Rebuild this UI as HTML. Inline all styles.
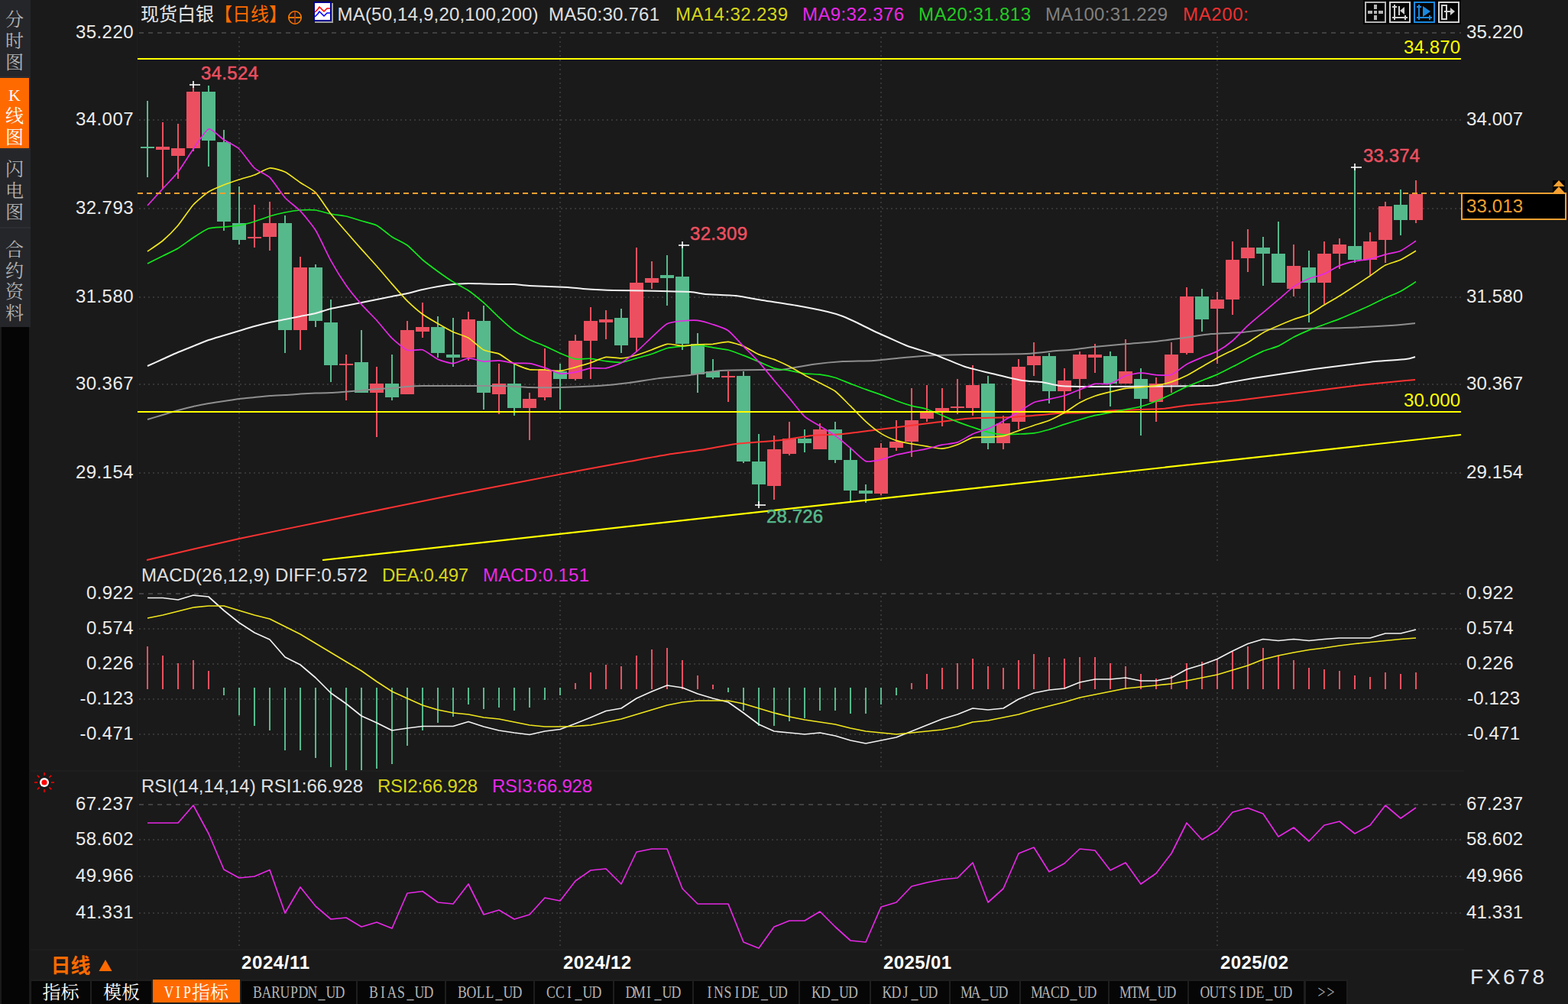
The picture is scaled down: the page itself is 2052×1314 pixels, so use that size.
<!DOCTYPE html>
<html><head><meta charset="utf-8"><title>chart</title>
<style>html,body{margin:0;padding:0;background:#1a1a1a;overflow:hidden}svg{display:block}</style>
</head><body>
<svg width="2052" height="1314" viewBox="0 0 2052 1314">
<rect x="0" y="0" width="2052" height="1314" fill="#1a1a1a" />
<rect x="0" y="0" width="40" height="428" fill="#25262a" />
<rect x="0" y="102" width="38" height="92" fill="#ff6a00" />
<rect x="2" y="428" width="36" height="886" fill="#050505" />
<line x1="0" y1="298" x2="40" y2="298" stroke="#34353a" stroke-width="1" />
<line x1="0" y1="100.5" x2="40" y2="100.5" stroke="#2e2f33" stroke-width="1" />
<line x1="0" y1="195.5" x2="40" y2="195.5" stroke="#2e2f33" stroke-width="1" />
<text x="7" y="34.12" fill="#b4b4b4" font-size="24" text-anchor="start" font-family="Liberation Serif, Noto Serif CJK SC, serif">分</text>
<text x="7" y="62.12" fill="#b4b4b4" font-size="24" text-anchor="start" font-family="Liberation Serif, Noto Serif CJK SC, serif">时</text>
<text x="7" y="90.12" fill="#b4b4b4" font-size="24" text-anchor="start" font-family="Liberation Serif, Noto Serif CJK SC, serif">图</text>
<text x="19" y="132" fill="#ffffff" font-size="22" font-weight="normal" text-anchor="middle" font-family="Liberation Serif, sans-serif" >K</text>
<text x="7" y="160.12" fill="#ffffff" font-size="24" text-anchor="start" font-family="Liberation Serif, Noto Serif CJK SC, serif">线</text>
<text x="7" y="188.12" fill="#ffffff" font-size="24" text-anchor="start" font-family="Liberation Serif, Noto Serif CJK SC, serif">图</text>
<text x="7" y="230.12" fill="#b4b4b4" font-size="24" text-anchor="start" font-family="Liberation Serif, Noto Serif CJK SC, serif">闪</text>
<text x="7" y="258.12" fill="#b4b4b4" font-size="24" text-anchor="start" font-family="Liberation Serif, Noto Serif CJK SC, serif">电</text>
<text x="7" y="286.12" fill="#b4b4b4" font-size="24" text-anchor="start" font-family="Liberation Serif, Noto Serif CJK SC, serif">图</text>
<text x="7" y="335.12" fill="#b4b4b4" font-size="24" text-anchor="start" font-family="Liberation Serif, Noto Serif CJK SC, serif">合</text>
<text x="7" y="363.12" fill="#b4b4b4" font-size="24" text-anchor="start" font-family="Liberation Serif, Noto Serif CJK SC, serif">约</text>
<text x="7" y="390.12" fill="#b4b4b4" font-size="24" text-anchor="start" font-family="Liberation Serif, Noto Serif CJK SC, serif">资</text>
<text x="7" y="418.12" fill="#b4b4b4" font-size="24" text-anchor="start" font-family="Liberation Serif, Noto Serif CJK SC, serif">料</text>
<line x1="40" y1="1009" x2="1916" y2="1009" stroke="#222222" stroke-width="1" />
<line x1="40" y1="1243" x2="1916" y2="1243" stroke="#222222" stroke-width="1" />
<line x1="179.5" y1="0" x2="179.5" y2="1282" stroke="#1f1f1f" stroke-width="1" />
<line x1="182" y1="43" x2="1912" y2="43" stroke="#404040" stroke-width="2" stroke-dasharray="6 6" shape-rendering="crispEdges"/>
<line x1="182" y1="157" x2="1912" y2="157" stroke="#363636" stroke-width="2" stroke-dasharray="2 4" shape-rendering="crispEdges"/>
<line x1="182" y1="273" x2="1912" y2="273" stroke="#363636" stroke-width="2" stroke-dasharray="2 4" shape-rendering="crispEdges"/>
<line x1="182" y1="389" x2="1912" y2="389" stroke="#363636" stroke-width="2" stroke-dasharray="2 4" shape-rendering="crispEdges"/>
<line x1="182" y1="503" x2="1912" y2="503" stroke="#363636" stroke-width="2" stroke-dasharray="2 4" shape-rendering="crispEdges"/>
<line x1="182" y1="619" x2="1912" y2="619" stroke="#363636" stroke-width="2" stroke-dasharray="2 4" shape-rendering="crispEdges"/>
<line x1="182" y1="777" x2="1912" y2="777" stroke="#404040" stroke-width="2" stroke-dasharray="6 6" shape-rendering="crispEdges"/>
<line x1="182" y1="823" x2="1912" y2="823" stroke="#363636" stroke-width="2" stroke-dasharray="2 4" shape-rendering="crispEdges"/>
<line x1="182" y1="869" x2="1912" y2="869" stroke="#363636" stroke-width="2" stroke-dasharray="2 4" shape-rendering="crispEdges"/>
<line x1="182" y1="915" x2="1912" y2="915" stroke="#363636" stroke-width="2" stroke-dasharray="2 4" shape-rendering="crispEdges"/>
<line x1="182" y1="961" x2="1912" y2="961" stroke="#363636" stroke-width="2" stroke-dasharray="2 4" shape-rendering="crispEdges"/>
<line x1="182" y1="1053" x2="1912" y2="1053" stroke="#404040" stroke-width="2" stroke-dasharray="6 6" shape-rendering="crispEdges"/>
<line x1="182" y1="1099" x2="1912" y2="1099" stroke="#363636" stroke-width="2" stroke-dasharray="2 4" shape-rendering="crispEdges"/>
<line x1="182" y1="1147" x2="1912" y2="1147" stroke="#363636" stroke-width="2" stroke-dasharray="2 4" shape-rendering="crispEdges"/>
<line x1="182" y1="1195" x2="1912" y2="1195" stroke="#363636" stroke-width="2" stroke-dasharray="2 4" shape-rendering="crispEdges"/>
<line x1="313" y1="48" x2="313" y2="735" stroke="#363636" stroke-width="2" stroke-dasharray="2 4" shape-rendering="crispEdges"/>
<line x1="313" y1="780" x2="313" y2="1007" stroke="#363636" stroke-width="2" stroke-dasharray="2 4" shape-rendering="crispEdges"/>
<line x1="313" y1="1056" x2="313" y2="1241" stroke="#363636" stroke-width="2" stroke-dasharray="2 4" shape-rendering="crispEdges"/>
<line x1="733" y1="48" x2="733" y2="735" stroke="#363636" stroke-width="2" stroke-dasharray="2 4" shape-rendering="crispEdges"/>
<line x1="733" y1="780" x2="733" y2="1007" stroke="#363636" stroke-width="2" stroke-dasharray="2 4" shape-rendering="crispEdges"/>
<line x1="733" y1="1056" x2="733" y2="1241" stroke="#363636" stroke-width="2" stroke-dasharray="2 4" shape-rendering="crispEdges"/>
<line x1="1153" y1="48" x2="1153" y2="735" stroke="#363636" stroke-width="2" stroke-dasharray="2 4" shape-rendering="crispEdges"/>
<line x1="1153" y1="780" x2="1153" y2="1007" stroke="#363636" stroke-width="2" stroke-dasharray="2 4" shape-rendering="crispEdges"/>
<line x1="1153" y1="1056" x2="1153" y2="1241" stroke="#363636" stroke-width="2" stroke-dasharray="2 4" shape-rendering="crispEdges"/>
<line x1="1593" y1="48" x2="1593" y2="735" stroke="#363636" stroke-width="2" stroke-dasharray="2 4" shape-rendering="crispEdges"/>
<line x1="1593" y1="780" x2="1593" y2="1007" stroke="#363636" stroke-width="2" stroke-dasharray="2 4" shape-rendering="crispEdges"/>
<line x1="1593" y1="1056" x2="1593" y2="1241" stroke="#363636" stroke-width="2" stroke-dasharray="2 4" shape-rendering="crispEdges"/>
<clipPath id="cm"><rect x="180" y="34" width="1734" height="700"/></clipPath>
<g shape-rendering="crispEdges">
<rect x="192" y="132" width="2" height="100" fill="#56b98c" />
<rect x="184" y="192" width="18" height="2" fill="#56b98c" />
<rect x="212" y="160" width="2" height="87" fill="#ec5060" />
<rect x="204" y="192" width="18" height="4" fill="#ec5060" />
<rect x="232" y="162" width="2" height="72" fill="#ec5060" />
<rect x="224" y="194" width="18" height="10" fill="#ec5060" />
<rect x="252" y="113" width="2" height="85" fill="#ec5060" />
<rect x="244" y="120" width="18" height="74" fill="#ec5060" />
<rect x="272" y="112" width="2" height="106" fill="#56b98c" />
<rect x="264" y="120" width="18" height="64" fill="#56b98c" />
<rect x="292" y="170" width="2" height="132" fill="#56b98c" />
<rect x="284" y="186" width="18" height="104" fill="#56b98c" />
<rect x="312" y="244" width="2" height="76" fill="#56b98c" />
<rect x="304" y="292" width="18" height="22" fill="#56b98c" />
<rect x="332" y="268" width="2" height="56" fill="#ec5060" />
<rect x="324" y="310" width="18" height="2" fill="#ec5060" />
<rect x="352" y="264" width="2" height="64" fill="#ec5060" />
<rect x="344" y="292" width="18" height="18" fill="#ec5060" />
<rect x="372" y="282" width="2" height="180" fill="#56b98c" />
<rect x="364" y="292" width="18" height="140" fill="#56b98c" />
<rect x="392" y="336" width="2" height="122" fill="#ec5060" />
<rect x="384" y="350" width="18" height="82" fill="#ec5060" />
<rect x="412" y="346" width="2" height="82" fill="#56b98c" />
<rect x="404" y="350" width="18" height="70" fill="#56b98c" />
<rect x="432" y="392" width="2" height="108" fill="#56b98c" />
<rect x="424" y="422" width="18" height="56" fill="#56b98c" />
<rect x="452" y="464" width="2" height="60" fill="#ec5060" />
<rect x="444" y="476" width="18" height="2" fill="#ec5060" />
<rect x="472" y="432" width="2" height="82" fill="#56b98c" />
<rect x="464" y="474" width="18" height="40" fill="#56b98c" />
<rect x="492" y="480" width="2" height="92" fill="#ec5060" />
<rect x="484" y="502" width="18" height="12" fill="#ec5060" />
<rect x="512" y="464" width="2" height="60" fill="#56b98c" />
<rect x="504" y="502" width="18" height="18" fill="#56b98c" />
<rect x="532" y="420" width="2" height="96" fill="#ec5060" />
<rect x="524" y="432" width="18" height="84" fill="#ec5060" />
<rect x="552" y="396" width="2" height="46" fill="#ec5060" />
<rect x="544" y="428" width="18" height="6" fill="#ec5060" />
<rect x="572" y="414" width="2" height="54" fill="#56b98c" />
<rect x="564" y="428" width="18" height="34" fill="#56b98c" />
<rect x="592" y="416" width="2" height="64" fill="#56b98c" />
<rect x="584" y="464" width="18" height="4" fill="#56b98c" />
<rect x="612" y="408" width="2" height="64" fill="#ec5060" />
<rect x="604" y="418" width="18" height="50" fill="#ec5060" />
<rect x="632" y="400" width="2" height="136" fill="#56b98c" />
<rect x="624" y="420" width="18" height="94" fill="#56b98c" />
<rect x="652" y="476" width="2" height="66" fill="#ec5060" />
<rect x="644" y="502" width="18" height="14" fill="#ec5060" />
<rect x="672" y="476" width="2" height="68" fill="#56b98c" />
<rect x="664" y="502" width="18" height="32" fill="#56b98c" />
<rect x="692" y="514" width="2" height="62" fill="#ec5060" />
<rect x="684" y="522" width="18" height="12" fill="#ec5060" />
<rect x="712" y="456" width="2" height="68" fill="#ec5060" />
<rect x="704" y="484" width="18" height="36" fill="#ec5060" />
<rect x="732" y="476" width="2" height="60" fill="#56b98c" />
<rect x="724" y="486" width="18" height="10" fill="#56b98c" />
<rect x="752" y="438" width="2" height="60" fill="#ec5060" />
<rect x="744" y="446" width="18" height="50" fill="#ec5060" />
<rect x="772" y="402" width="2" height="94" fill="#ec5060" />
<rect x="764" y="420" width="18" height="26" fill="#ec5060" />
<rect x="792" y="406" width="2" height="38" fill="#ec5060" />
<rect x="784" y="418" width="18" height="4" fill="#ec5060" />
<rect x="812" y="404" width="2" height="58" fill="#56b98c" />
<rect x="804" y="416" width="18" height="36" fill="#56b98c" />
<rect x="832" y="324" width="2" height="136" fill="#ec5060" />
<rect x="824" y="370" width="18" height="72" fill="#ec5060" />
<rect x="852" y="342" width="2" height="36" fill="#ec5060" />
<rect x="844" y="364" width="18" height="6" fill="#ec5060" />
<rect x="872" y="334" width="2" height="66" fill="#56b98c" />
<rect x="864" y="360" width="18" height="4" fill="#56b98c" />
<rect x="892" y="320" width="2" height="138" fill="#56b98c" />
<rect x="884" y="362" width="18" height="88" fill="#56b98c" />
<rect x="912" y="436" width="2" height="78" fill="#56b98c" />
<rect x="904" y="450" width="18" height="40" fill="#56b98c" />
<rect x="932" y="470" width="2" height="26" fill="#56b98c" />
<rect x="924" y="486" width="18" height="8" fill="#56b98c" />
<rect x="952" y="486" width="2" height="40" fill="#ec5060" />
<rect x="944" y="492" width="18" height="2" fill="#ec5060" />
<rect x="972" y="486" width="2" height="120" fill="#56b98c" />
<rect x="964" y="492" width="18" height="112" fill="#56b98c" />
<rect x="992" y="568" width="2" height="92" fill="#56b98c" />
<rect x="984" y="604" width="18" height="30" fill="#56b98c" />
<rect x="1012" y="570" width="2" height="84" fill="#ec5060" />
<rect x="1004" y="588" width="18" height="48" fill="#ec5060" />
<rect x="1032" y="552" width="2" height="44" fill="#ec5060" />
<rect x="1024" y="574" width="18" height="20" fill="#ec5060" />
<rect x="1052" y="562" width="2" height="30" fill="#56b98c" />
<rect x="1044" y="574" width="18" height="6" fill="#56b98c" />
<rect x="1072" y="554" width="2" height="34" fill="#ec5060" />
<rect x="1064" y="562" width="18" height="26" fill="#ec5060" />
<rect x="1092" y="552" width="2" height="54" fill="#56b98c" />
<rect x="1084" y="562" width="18" height="40" fill="#56b98c" />
<rect x="1112" y="586" width="2" height="70" fill="#56b98c" />
<rect x="1104" y="602" width="18" height="40" fill="#56b98c" />
<rect x="1132" y="634" width="2" height="24" fill="#56b98c" />
<rect x="1124" y="642" width="18" height="4" fill="#56b98c" />
<rect x="1152" y="580" width="2" height="68" fill="#ec5060" />
<rect x="1144" y="586" width="18" height="60" fill="#ec5060" />
<rect x="1172" y="550" width="2" height="40" fill="#ec5060" />
<rect x="1164" y="578" width="18" height="8" fill="#ec5060" />
<rect x="1192" y="508" width="2" height="90" fill="#ec5060" />
<rect x="1184" y="550" width="18" height="28" fill="#ec5060" />
<rect x="1212" y="504" width="2" height="48" fill="#ec5060" />
<rect x="1204" y="540" width="18" height="8" fill="#ec5060" />
<rect x="1232" y="508" width="2" height="50" fill="#ec5060" />
<rect x="1224" y="534" width="18" height="6" fill="#ec5060" />
<rect x="1252" y="496" width="2" height="46" fill="#ec5060" />
<rect x="1244" y="532" width="18" height="2" fill="#ec5060" />
<rect x="1272" y="478" width="2" height="66" fill="#ec5060" />
<rect x="1264" y="504" width="18" height="30" fill="#ec5060" />
<rect x="1292" y="492" width="2" height="96" fill="#56b98c" />
<rect x="1284" y="502" width="18" height="78" fill="#56b98c" />
<rect x="1312" y="544" width="2" height="44" fill="#ec5060" />
<rect x="1304" y="554" width="18" height="26" fill="#ec5060" />
<rect x="1332" y="470" width="2" height="92" fill="#ec5060" />
<rect x="1324" y="480" width="18" height="72" fill="#ec5060" />
<rect x="1352" y="448" width="2" height="44" fill="#ec5060" />
<rect x="1344" y="466" width="18" height="12" fill="#ec5060" />
<rect x="1372" y="462" width="2" height="66" fill="#56b98c" />
<rect x="1364" y="466" width="18" height="46" fill="#56b98c" />
<rect x="1392" y="482" width="2" height="56" fill="#ec5060" />
<rect x="1384" y="498" width="18" height="14" fill="#ec5060" />
<rect x="1412" y="460" width="2" height="62" fill="#ec5060" />
<rect x="1404" y="464" width="18" height="32" fill="#ec5060" />
<rect x="1432" y="450" width="2" height="38" fill="#ec5060" />
<rect x="1424" y="464" width="18" height="4" fill="#ec5060" />
<rect x="1452" y="460" width="2" height="72" fill="#56b98c" />
<rect x="1444" y="466" width="18" height="36" fill="#56b98c" />
<rect x="1472" y="444" width="2" height="58" fill="#ec5060" />
<rect x="1464" y="486" width="18" height="16" fill="#ec5060" />
<rect x="1492" y="482" width="2" height="88" fill="#56b98c" />
<rect x="1484" y="496" width="18" height="26" fill="#56b98c" />
<rect x="1512" y="494" width="2" height="58" fill="#ec5060" />
<rect x="1504" y="502" width="18" height="24" fill="#ec5060" />
<rect x="1532" y="448" width="2" height="66" fill="#ec5060" />
<rect x="1524" y="464" width="18" height="40" fill="#ec5060" />
<rect x="1552" y="376" width="2" height="88" fill="#ec5060" />
<rect x="1544" y="388" width="18" height="74" fill="#ec5060" />
<rect x="1572" y="378" width="2" height="56" fill="#56b98c" />
<rect x="1564" y="388" width="18" height="30" fill="#56b98c" />
<rect x="1592" y="382" width="2" height="94" fill="#ec5060" />
<rect x="1584" y="392" width="18" height="12" fill="#ec5060" />
<rect x="1612" y="316" width="2" height="96" fill="#ec5060" />
<rect x="1604" y="340" width="18" height="52" fill="#ec5060" />
<rect x="1632" y="300" width="2" height="56" fill="#ec5060" />
<rect x="1624" y="324" width="18" height="14" fill="#ec5060" />
<rect x="1652" y="310" width="2" height="64" fill="#56b98c" />
<rect x="1644" y="324" width="18" height="8" fill="#56b98c" />
<rect x="1672" y="290" width="2" height="80" fill="#56b98c" />
<rect x="1664" y="332" width="18" height="38" fill="#56b98c" />
<rect x="1692" y="320" width="2" height="68" fill="#ec5060" />
<rect x="1684" y="348" width="18" height="30" fill="#ec5060" />
<rect x="1712" y="328" width="2" height="94" fill="#56b98c" />
<rect x="1704" y="350" width="18" height="20" fill="#56b98c" />
<rect x="1732" y="316" width="2" height="82" fill="#ec5060" />
<rect x="1724" y="332" width="18" height="38" fill="#ec5060" />
<rect x="1752" y="312" width="2" height="40" fill="#ec5060" />
<rect x="1744" y="320" width="18" height="12" fill="#ec5060" />
<rect x="1772" y="220" width="2" height="124" fill="#56b98c" />
<rect x="1764" y="322" width="18" height="18" fill="#56b98c" />
<rect x="1792" y="304" width="2" height="56" fill="#ec5060" />
<rect x="1784" y="316" width="18" height="24" fill="#ec5060" />
<rect x="1812" y="264" width="2" height="80" fill="#ec5060" />
<rect x="1804" y="270" width="18" height="44" fill="#ec5060" />
<rect x="1832" y="248" width="2" height="60" fill="#56b98c" />
<rect x="1824" y="268" width="18" height="20" fill="#56b98c" />
<rect x="1852" y="236" width="2" height="56" fill="#ec5060" />
<rect x="1844" y="254" width="18" height="34" fill="#ec5060" />
</g>
<g clip-path="url(#cm)">
<line x1="422" y1="733" x2="1912" y2="569" stroke="#ffff00" stroke-width="2.2" />
<path d="M192.0 733.0C204.1 730.2 289.2 710.2 313.0 705.0C336.8 699.8 410.0 685.1 430.0 681.0C450.0 676.9 496.3 667.4 513.0 664.0C529.7 660.6 580.3 650.3 597.0 647.0C613.7 643.7 663.4 634.2 680.0 631.0C696.6 627.8 748.7 617.7 763.0 615.0C777.3 612.3 812.0 606.0 823.0 604.0C834.0 602.0 863.0 596.6 873.0 595.0C883.0 593.4 914.0 589.4 923.0 588.0C932.0 586.6 953.0 582.2 963.0 581.0C973.0 579.8 1013.0 577.1 1023.0 576.0C1033.0 574.9 1055.0 570.8 1063.0 570.0C1071.0 569.2 1095.0 568.7 1103.0 568.0C1111.0 567.3 1135.0 564.0 1143.0 563.0C1151.0 562.0 1175.0 559.0 1183.0 558.0C1191.0 557.0 1215.0 554.0 1223.0 553.0C1231.0 552.0 1257.0 548.6 1263.0 548.0C1269.0 547.4 1277.0 547.2 1283.0 547.0C1289.0 546.8 1315.0 546.4 1323.0 546.0C1331.0 545.6 1357.0 543.5 1363.0 543.0C1369.0 542.5 1376.7 541.3 1383.0 541.0C1389.3 540.7 1418.3 540.4 1426.0 540.0C1433.7 539.6 1450.6 537.5 1460.0 537.0C1469.4 536.5 1511.0 535.6 1520.0 535.0C1529.0 534.4 1544.0 531.7 1550.0 531.0C1556.0 530.3 1573.0 528.7 1580.0 528.0C1587.0 527.3 1612.0 524.9 1620.0 524.0C1628.0 523.1 1652.0 520.0 1660.0 519.0C1668.0 518.0 1692.0 515.0 1700.0 514.0C1708.0 513.0 1732.0 510.0 1740.0 509.0C1748.0 508.0 1772.0 504.9 1780.0 504.0C1788.0 503.1 1812.8 500.7 1820.0 500.0C1827.2 499.3 1848.8 497.3 1852.0 497.0" fill="none" stroke="#fa3232" stroke-width="2" stroke-linejoin="round" />
<path d="M193.0 549.0C195.0 548.4 209.0 544.2 213.0 543.0C217.0 541.8 229.0 538.1 233.0 537.0C237.0 535.9 249.0 532.9 253.0 532.0C257.0 531.1 269.0 528.7 273.0 528.0C277.0 527.3 289.0 525.6 293.0 525.0C297.0 524.4 309.0 522.5 313.0 522.0C317.0 521.5 329.0 520.4 333.0 520.0C337.0 519.6 349.0 518.3 353.0 518.0C357.0 517.7 369.0 517.2 373.0 517.0C377.0 516.8 389.0 515.8 393.0 515.5C397.0 515.2 409.0 514.6 413.0 514.5C417.0 514.4 429.0 514.2 433.0 514.0C437.0 513.8 449.0 512.8 453.0 512.5C457.0 512.2 469.0 511.4 473.0 511.0C477.0 510.6 489.0 509.3 493.0 509.0C497.0 508.7 509.0 508.3 513.0 508.0C517.0 507.7 529.0 506.3 533.0 506.0C537.0 505.7 541.0 505.1 553.0 505.0C565.0 504.9 639.0 504.8 653.0 505.0C667.0 505.2 685.0 506.8 693.0 507.0C701.0 507.2 724.0 507.2 733.0 507.0C742.0 506.8 774.0 505.6 783.0 505.0C792.0 504.4 815.0 502.0 823.0 501.0C831.0 500.0 855.0 496.0 863.0 495.0C871.0 494.0 895.0 492.0 903.0 491.0C911.0 490.0 933.0 485.7 943.0 485.0C953.0 484.3 995.0 484.1 1003.0 484.0C1011.0 483.9 1017.0 484.7 1023.0 484.0C1029.0 483.3 1055.0 478.1 1063.0 477.0C1071.0 475.9 1095.0 473.5 1103.0 473.0C1111.0 472.5 1135.0 472.5 1143.0 472.0C1151.0 471.5 1175.0 468.7 1183.0 468.0C1191.0 467.3 1215.0 465.4 1223.0 465.0C1231.0 464.6 1251.0 464.2 1263.0 464.0C1275.0 463.8 1331.0 463.5 1343.0 463.0C1355.0 462.5 1377.3 459.5 1383.0 459.0C1388.7 458.5 1395.1 458.5 1400.0 458.0C1404.9 457.5 1424.5 454.8 1432.0 454.0C1439.5 453.2 1467.0 450.7 1475.0 450.0C1483.0 449.3 1504.5 447.8 1512.0 447.0C1519.5 446.2 1542.7 443.0 1550.0 442.0C1557.3 441.0 1577.5 437.7 1585.0 437.0C1592.5 436.3 1617.5 435.6 1625.0 435.0C1632.5 434.4 1652.5 431.5 1660.0 431.0C1667.5 430.5 1690.0 430.2 1700.0 430.0C1710.0 429.8 1748.0 429.4 1760.0 429.0C1772.0 428.6 1810.8 426.6 1820.0 426.0C1829.2 425.4 1848.8 423.3 1852.0 423.0" fill="none" stroke="#8e8e8e" stroke-width="2" stroke-linejoin="round" />
<path d="M193.0 479.0C195.0 478.1 209.0 471.8 213.0 470.0C217.0 468.2 229.0 462.7 233.0 461.0C237.0 459.3 249.0 454.6 253.0 453.0C257.0 451.4 269.0 446.4 273.0 445.0C277.0 443.6 289.0 440.2 293.0 439.0C297.0 437.8 309.0 434.2 313.0 433.0C317.0 431.8 329.0 428.1 333.0 427.0C337.0 425.9 349.0 422.9 353.0 422.0C357.0 421.1 369.0 418.8 373.0 418.0C377.0 417.2 389.0 414.8 393.0 414.0C397.0 413.2 409.0 411.0 413.0 410.0C417.0 409.0 429.0 405.0 433.0 404.0C437.0 403.0 449.0 400.8 453.0 400.0C457.0 399.2 469.0 396.8 473.0 396.0C477.0 395.2 489.0 392.8 493.0 392.0C497.0 391.2 509.0 388.8 513.0 388.0C517.0 387.2 529.0 384.9 533.0 384.0C537.0 383.1 549.0 379.9 553.0 379.0C557.0 378.1 569.0 375.7 573.0 375.0C577.0 374.3 589.0 372.4 593.0 372.0C597.0 371.6 609.0 371.1 613.0 371.0C617.0 370.9 629.0 371.4 633.0 371.5C637.0 371.6 649.0 371.9 653.0 372.0C657.0 372.1 669.0 371.8 673.0 372.0C677.0 372.2 686.0 373.6 693.0 374.0C700.0 374.4 736.0 375.6 743.0 376.0C750.0 376.4 757.0 377.6 763.0 378.0C769.0 378.4 795.0 379.8 803.0 380.0C811.0 380.2 833.0 380.3 843.0 380.5C853.0 380.7 895.0 381.6 903.0 382.0C911.0 382.4 917.0 384.5 923.0 385.0C929.0 385.5 955.5 386.2 963.0 387.0C970.5 387.8 990.0 391.7 998.0 393.0C1006.0 394.3 1034.5 398.5 1043.0 400.0C1051.5 401.5 1077.0 406.6 1083.0 408.0C1089.0 409.4 1099.0 412.5 1103.0 414.0C1107.0 415.5 1119.0 421.1 1123.0 423.0C1127.0 424.9 1139.0 431.1 1143.0 433.0C1147.0 434.9 1158.5 440.0 1163.0 442.0C1167.5 444.0 1182.0 450.8 1188.0 453.0C1194.0 455.2 1215.5 461.3 1223.0 464.0C1230.5 466.7 1255.0 477.4 1263.0 480.0C1271.0 482.6 1295.5 488.2 1303.0 490.0C1310.5 491.8 1332.0 497.0 1338.0 498.0C1344.0 499.0 1358.0 499.3 1363.0 500.0C1368.0 500.7 1381.7 504.4 1388.0 505.0C1394.3 505.6 1406.8 506.0 1426.0 506.0C1445.2 506.0 1562.6 505.4 1580.0 505.0C1597.4 504.6 1594.0 503.0 1600.0 502.0C1606.0 501.0 1632.0 496.3 1640.0 495.0C1648.0 493.7 1672.0 490.2 1680.0 489.0C1688.0 487.8 1712.0 484.1 1720.0 483.0C1728.0 481.9 1752.0 479.0 1760.0 478.0C1768.0 477.0 1792.0 473.8 1800.0 473.0C1808.0 472.2 1834.8 470.6 1840.0 470.0C1845.2 469.4 1850.8 467.3 1852.0 467.0" fill="none" stroke="#f2f2f2" stroke-width="2" stroke-linejoin="round" />
<path d="M193.0 345.0C195.0 344.0 209.0 337.0 213.0 335.0C217.0 333.0 229.0 327.4 233.0 325.0C237.0 322.6 249.0 313.6 253.0 311.0C257.0 308.4 269.0 300.4 273.0 299.0C277.0 297.6 289.0 297.4 293.0 297.0C297.0 296.6 309.0 295.7 313.0 295.0C317.0 294.3 329.0 291.2 333.0 290.0C337.0 288.8 349.0 284.2 353.0 283.0C357.0 281.8 369.0 278.8 373.0 278.0C377.0 277.2 389.0 275.3 393.0 275.0C397.0 274.7 409.0 274.5 413.0 275.0C417.0 275.5 429.0 279.2 433.0 280.0C437.0 280.8 449.0 282.1 453.0 283.0C457.0 283.9 469.0 287.8 473.0 289.0C477.0 290.2 489.0 292.9 493.0 295.0C497.0 297.1 509.0 307.4 513.0 310.0C517.0 312.6 529.0 318.0 533.0 321.0C537.0 324.0 549.0 336.6 553.0 340.0C557.0 343.4 569.0 352.3 573.0 355.2C577.0 358.1 589.0 366.4 593.0 368.9C597.0 371.4 609.0 377.5 613.0 380.2C617.0 382.9 629.0 392.7 633.0 396.2C637.0 399.7 649.0 411.6 653.0 415.3C657.0 419.0 669.0 429.9 673.0 432.8C677.0 435.7 689.0 442.4 693.0 444.4C697.0 446.4 709.0 451.1 713.0 452.9C717.0 454.7 729.0 460.5 733.0 462.2C737.0 463.9 749.0 469.2 753.0 469.9C757.0 470.6 769.0 469.0 773.0 469.3C777.0 469.6 789.0 472.2 793.0 472.7C797.0 473.2 809.0 474.7 813.0 474.3C817.0 473.9 829.0 470.0 833.0 468.9C837.0 467.8 849.0 464.6 853.0 463.3C857.0 462.0 869.0 456.8 873.0 455.8C877.0 454.8 889.0 453.6 893.0 453.2C897.0 452.8 909.0 451.5 913.0 451.7C917.0 451.9 929.0 454.2 933.0 454.8C937.0 455.4 949.0 457.0 953.0 458.0C957.0 459.0 969.0 463.6 973.0 465.1C977.0 466.6 989.0 471.7 993.0 473.4C997.0 475.1 1009.0 480.8 1013.0 481.9C1017.0 483.0 1029.0 484.2 1033.0 484.9C1037.0 485.6 1049.0 488.3 1053.0 488.8C1057.0 489.3 1069.0 489.7 1073.0 490.2C1077.0 490.7 1089.0 493.0 1093.0 494.2C1097.0 495.4 1109.0 500.6 1113.0 502.1C1117.0 503.6 1129.0 508.2 1133.0 509.6C1137.0 511.1 1149.0 515.1 1153.0 516.6C1157.0 518.1 1169.0 523.0 1173.0 524.5C1177.0 526.0 1189.0 530.0 1193.0 531.1C1197.0 532.2 1209.0 534.2 1213.0 535.5C1217.0 536.8 1229.0 542.0 1233.0 543.7C1237.0 545.4 1249.0 550.6 1253.0 552.1C1257.0 553.6 1269.0 557.8 1273.0 559.1C1277.0 560.5 1289.0 564.6 1293.0 565.6C1297.0 566.6 1309.0 568.5 1313.0 568.8C1317.0 569.0 1329.0 568.3 1333.0 568.1C1337.0 567.9 1349.0 567.4 1353.0 566.8C1357.0 566.2 1369.0 563.3 1373.0 562.2C1377.0 561.1 1389.0 556.7 1393.0 555.4C1397.0 554.1 1409.0 550.4 1413.0 549.2C1417.0 548.0 1429.0 544.6 1433.0 543.7C1437.0 542.8 1449.0 540.6 1453.0 539.8C1457.0 539.0 1469.0 536.8 1473.0 536.0C1477.0 535.2 1489.0 533.1 1493.0 532.0C1497.0 530.9 1509.0 526.6 1513.0 525.0C1517.0 523.4 1529.0 517.8 1533.0 515.9C1537.0 514.0 1549.0 507.8 1553.0 506.0C1557.0 504.2 1569.0 499.6 1573.0 498.0C1577.0 496.4 1589.0 491.9 1593.0 490.1C1597.0 488.3 1609.0 482.2 1613.0 480.1C1617.0 478.1 1629.0 471.7 1633.0 469.6C1637.0 467.6 1649.0 461.3 1653.0 459.6C1657.0 457.9 1669.0 454.7 1673.0 452.9C1677.0 451.1 1689.0 443.4 1693.0 441.3C1697.0 439.2 1709.0 433.8 1713.0 432.1C1717.0 430.4 1729.0 426.2 1733.0 424.7C1737.0 423.2 1749.0 419.0 1753.0 417.4C1757.0 415.8 1769.0 410.6 1773.0 408.8C1777.0 407.0 1789.0 401.6 1793.0 399.7C1797.0 397.8 1809.0 391.9 1813.0 390.0C1817.0 388.1 1829.0 383.3 1833.0 381.2C1837.0 379.1 1851.0 370.0 1853.0 368.8" fill="none" stroke="#14e61e" stroke-width="1.7" stroke-linejoin="round" />
<path d="M193.0 329.0C195.0 327.6 209.0 318.4 213.0 315.0C217.0 311.6 229.0 299.7 233.0 295.0C237.0 290.3 249.0 272.4 253.0 268.0C257.0 263.6 269.0 253.6 273.0 251.0C277.0 248.4 289.0 243.6 293.0 242.0C297.0 240.4 309.0 236.3 313.0 235.0C317.0 233.7 329.0 230.5 333.0 229.0C337.0 227.5 349.0 220.4 353.0 220.0C357.0 219.6 369.0 223.1 373.0 225.0C377.0 226.9 389.0 236.3 393.0 239.0C397.0 241.7 409.0 247.9 413.0 252.0C417.0 256.1 429.0 274.9 433.0 280.0C437.0 285.1 449.0 298.7 453.0 303.3C457.0 307.9 469.0 321.6 473.0 326.1C477.0 330.6 489.0 343.7 493.0 348.3C497.0 352.8 509.0 367.0 513.0 371.6C517.0 376.1 529.0 389.9 533.0 393.9C537.0 397.8 549.0 408.3 553.0 411.3C557.0 414.3 569.0 421.2 573.0 423.6C577.0 425.9 589.0 432.7 593.0 434.6C597.0 436.4 609.0 439.9 613.0 442.3C617.0 444.6 629.0 456.1 633.0 458.1C637.0 460.2 649.0 461.3 653.0 463.1C657.0 465.0 669.0 474.2 673.0 476.3C677.0 478.3 689.0 482.8 693.0 483.6C697.0 484.3 709.0 483.8 713.0 484.0C717.0 484.2 729.0 485.8 733.0 485.4C737.0 485.1 749.0 481.6 753.0 480.6C757.0 479.5 769.0 476.0 773.0 474.7C777.0 473.4 789.0 468.0 793.0 467.4C797.0 466.8 809.0 469.1 813.0 468.9C817.0 468.6 829.0 465.8 833.0 464.7C837.0 463.6 849.0 459.2 853.0 457.7C857.0 456.3 869.0 450.8 873.0 450.3C877.0 449.8 889.0 452.5 893.0 452.6C897.0 452.6 909.0 451.1 913.0 450.9C917.0 450.6 929.0 450.6 933.0 450.3C937.0 449.9 949.0 447.0 953.0 447.3C957.0 447.6 969.0 451.5 973.0 453.1C977.0 454.8 989.0 462.1 993.0 463.9C997.0 465.6 1009.0 468.9 1013.0 470.4C1017.0 472.0 1029.0 477.5 1033.0 479.6C1037.0 481.6 1049.0 488.8 1053.0 491.0C1057.0 493.2 1069.0 499.2 1073.0 501.3C1077.0 503.4 1089.0 509.0 1093.0 512.0C1097.0 515.0 1109.0 527.5 1113.0 531.4C1117.0 535.4 1129.0 548.0 1133.0 551.6C1137.0 555.2 1149.0 564.9 1153.0 567.4C1157.0 569.9 1169.0 575.2 1173.0 576.6C1177.0 577.9 1189.0 580.1 1193.0 580.9C1197.0 581.6 1209.0 583.5 1213.0 584.1C1217.0 584.8 1229.0 587.4 1233.0 587.1C1237.0 586.9 1249.0 583.4 1253.0 582.0C1257.0 580.6 1269.0 573.7 1273.0 572.7C1277.0 571.7 1289.0 572.3 1293.0 572.1C1297.0 571.9 1309.0 571.6 1313.0 570.7C1317.0 569.9 1329.0 565.0 1333.0 563.6C1337.0 562.2 1349.0 558.0 1353.0 556.7C1357.0 555.4 1369.0 552.0 1373.0 550.3C1377.0 548.6 1389.0 542.3 1393.0 540.0C1397.0 537.7 1409.0 529.2 1413.0 527.0C1417.0 524.8 1429.0 519.7 1433.0 518.3C1437.0 516.9 1449.0 513.9 1453.0 512.9C1457.0 511.9 1469.0 508.9 1473.0 508.3C1477.0 507.7 1489.0 507.4 1493.0 507.0C1497.0 506.6 1509.0 505.4 1513.0 504.7C1517.0 504.0 1529.0 501.2 1533.0 499.9C1537.0 498.5 1549.0 493.6 1553.0 491.6C1557.0 489.6 1569.0 482.3 1573.0 480.0C1577.0 477.7 1589.0 470.6 1593.0 468.4C1597.0 466.3 1609.0 460.4 1613.0 458.4C1617.0 456.4 1629.0 450.6 1633.0 448.3C1637.0 446.0 1649.0 437.6 1653.0 435.4C1657.0 433.2 1669.0 428.0 1673.0 426.3C1677.0 424.5 1689.0 419.5 1693.0 418.0C1697.0 416.5 1709.0 413.2 1713.0 411.3C1717.0 409.4 1729.0 401.5 1733.0 399.1C1737.0 396.7 1749.0 389.8 1753.0 387.3C1757.0 384.8 1769.0 376.9 1773.0 374.3C1777.0 371.7 1789.0 363.7 1793.0 361.0C1797.0 358.3 1809.0 349.2 1813.0 347.1C1817.0 345.0 1829.0 341.9 1833.0 340.0C1837.0 338.1 1851.0 329.5 1853.0 328.3" fill="none" stroke="#f0e61e" stroke-width="1.7" stroke-linejoin="round" />
<path d="M193.0 269.0C195.0 266.8 209.0 251.4 213.0 247.0C217.0 242.6 229.0 230.2 233.0 225.0C237.0 219.8 249.0 200.6 253.0 195.0C257.0 189.4 269.0 170.2 273.0 169.0C277.0 167.8 289.0 180.4 293.0 183.0C297.0 185.6 309.0 191.3 313.0 195.0C317.0 198.7 329.0 216.3 333.0 220.0C337.0 223.7 349.0 228.4 353.0 232.2C357.0 236.1 369.0 254.3 373.0 258.7C377.0 263.1 389.0 272.0 393.0 276.2C397.0 280.5 409.0 294.8 413.0 301.3C417.0 307.8 429.0 333.9 433.0 341.1C437.0 348.3 449.0 367.8 453.0 373.6C457.0 379.3 469.0 393.9 473.0 398.4C477.0 403.0 489.0 414.9 493.0 419.3C497.0 423.8 509.0 438.8 513.0 442.7C517.0 446.6 529.0 456.7 533.0 458.2C537.0 459.7 549.0 456.6 553.0 457.8C557.0 459.0 569.0 468.4 573.0 470.2C577.0 472.0 589.0 475.7 593.0 475.6C597.0 475.4 609.0 469.1 613.0 468.9C617.0 468.6 629.0 472.8 633.0 473.1C637.0 473.4 649.0 471.6 653.0 471.8C657.0 472.0 669.0 475.0 673.0 475.3C677.0 475.7 689.0 475.0 693.0 475.6C697.0 476.2 709.0 480.0 713.0 481.3C717.0 482.7 729.0 488.3 733.0 488.9C737.0 489.5 749.0 487.8 753.0 487.1C757.0 486.4 769.0 482.3 773.0 481.8C777.0 481.2 789.0 482.5 793.0 481.8C797.0 481.1 809.0 477.0 813.0 474.9C817.0 472.7 829.0 463.6 833.0 460.2C837.0 456.9 849.0 445.0 853.0 441.3C857.0 437.7 869.0 425.9 873.0 423.8C877.0 421.6 889.0 420.4 893.0 420.0C897.0 419.6 909.0 418.9 913.0 419.3C917.0 419.8 929.0 423.3 933.0 424.7C937.0 426.0 949.0 429.8 953.0 432.7C957.0 435.5 969.0 449.2 973.0 453.3C977.0 457.4 989.0 469.1 993.0 473.6C997.0 478.0 1009.0 493.0 1013.0 497.8C1017.0 502.5 1029.0 516.4 1033.0 521.1C1037.0 525.8 1049.0 541.5 1053.0 545.1C1057.0 548.8 1069.0 555.1 1073.0 557.6C1077.0 560.0 1089.0 567.1 1093.0 570.0C1097.0 572.9 1109.0 583.1 1113.0 586.4C1117.0 589.8 1129.0 602.0 1133.0 603.6C1137.0 605.1 1149.0 602.4 1153.0 601.6C1157.0 600.7 1169.0 596.4 1173.0 595.3C1177.0 594.3 1189.0 591.9 1193.0 591.1C1197.0 590.3 1209.0 588.2 1213.0 587.3C1217.0 586.4 1229.0 583.1 1233.0 582.2C1237.0 581.4 1249.0 580.3 1253.0 578.9C1257.0 577.5 1269.0 569.8 1273.0 568.0C1277.0 566.2 1289.0 562.8 1293.0 561.1C1297.0 559.4 1309.0 553.1 1313.0 550.9C1317.0 548.7 1329.0 541.5 1333.0 539.1C1337.0 536.7 1349.0 528.3 1353.0 526.7C1357.0 525.0 1369.0 523.3 1373.0 522.4C1377.0 521.6 1389.0 519.0 1393.0 517.8C1397.0 516.5 1409.0 511.5 1413.0 510.0C1417.0 508.5 1429.0 503.2 1433.0 502.4C1437.0 501.7 1449.0 503.3 1453.0 502.2C1457.0 501.2 1469.0 493.2 1473.0 491.8C1477.0 490.4 1489.0 488.3 1493.0 488.2C1497.0 488.1 1509.0 490.4 1513.0 490.7C1517.0 490.9 1529.0 491.8 1533.0 490.4C1537.0 489.0 1549.0 478.9 1553.0 476.7C1557.0 474.4 1569.0 469.5 1573.0 467.8C1577.0 466.1 1589.0 462.0 1593.0 459.8C1597.0 457.6 1609.0 449.4 1613.0 446.0C1617.0 442.6 1629.0 429.9 1633.0 426.2C1637.0 422.5 1649.0 412.5 1653.0 409.1C1657.0 405.7 1669.0 395.6 1673.0 392.2C1677.0 388.8 1689.0 377.9 1693.0 375.1C1697.0 372.4 1709.0 366.3 1713.0 364.7C1717.0 363.0 1729.0 360.2 1733.0 358.4C1737.0 356.7 1749.0 349.2 1753.0 347.6C1757.0 345.9 1769.0 342.6 1773.0 341.8C1777.0 340.9 1789.0 340.0 1793.0 339.1C1797.0 338.2 1809.0 334.2 1813.0 333.1C1817.0 332.0 1829.0 330.0 1833.0 328.2C1837.0 326.4 1851.0 316.6 1853.0 315.3" fill="none" stroke="#e628e6" stroke-width="1.7" stroke-linejoin="round" />
</g>
<line x1="180" y1="77" x2="1912" y2="77" stroke="#ffff00" stroke-width="2" />
<line x1="180" y1="539" x2="1912" y2="539" stroke="#ffff00" stroke-width="2" />
<line x1="180" y1="253" x2="1912" y2="253" stroke="#f5a030" stroke-width="2" stroke-dasharray="7 5"/>
<line x1="253" y1="106" x2="253" y2="115" stroke="#ffffff" stroke-width="1.6" />
<line x1="248" y1="111" x2="262" y2="111" stroke="#ffffff" stroke-width="1.6" />
<line x1="893" y1="316" x2="893" y2="325" stroke="#ffffff" stroke-width="1.6" />
<line x1="888" y1="321" x2="902" y2="321" stroke="#ffffff" stroke-width="1.6" />
<line x1="993" y1="656" x2="993" y2="665" stroke="#ffffff" stroke-width="1.6" />
<line x1="988" y1="661" x2="1002" y2="661" stroke="#ffffff" stroke-width="1.6" />
<line x1="1773" y1="214" x2="1773" y2="223" stroke="#ffffff" stroke-width="1.6" />
<line x1="1768" y1="219" x2="1782" y2="219" stroke="#ffffff" stroke-width="1.6" />
<text x="263" y="104" fill="#ec5060" font-size="24" font-weight="normal" text-anchor="start" font-family="Liberation Sans, sans-serif" textLength="75" lengthAdjust="spacing" stroke="#ec5060" stroke-width="0.5" paint-order="stroke">34.524</text>
<text x="903" y="314" fill="#ec5060" font-size="24" font-weight="normal" text-anchor="start" font-family="Liberation Sans, sans-serif" textLength="75" lengthAdjust="spacing" stroke="#ec5060" stroke-width="0.5" paint-order="stroke">32.309</text>
<text x="1784" y="212" fill="#ec5060" font-size="24" font-weight="normal" text-anchor="start" font-family="Liberation Sans, sans-serif" textLength="74" lengthAdjust="spacing" stroke="#ec5060" stroke-width="0.5" paint-order="stroke">33.374</text>
<text x="1003" y="684" fill="#56b98c" font-size="24" font-weight="normal" text-anchor="start" font-family="Liberation Sans, sans-serif" textLength="74" lengthAdjust="spacing" stroke="#56b98c" stroke-width="0.5" paint-order="stroke">28.726</text>
<text x="1837" y="70" fill="#ffff00" font-size="24" font-weight="normal" text-anchor="start" font-family="Liberation Sans, sans-serif" textLength="74" lengthAdjust="spacing" >34.870</text>
<text x="1837" y="532" fill="#ffff00" font-size="24" font-weight="normal" text-anchor="start" font-family="Liberation Sans, sans-serif" textLength="74" lengthAdjust="spacing" >30.000</text>
<text x="174.5" y="49.5" fill="#ececec" font-size="24" font-weight="normal" text-anchor="end" font-family="Liberation Sans, sans-serif" textLength="75.5" lengthAdjust="spacing" >35.220</text>
<text x="1919" y="49.5" fill="#ececec" font-size="24" font-weight="normal" text-anchor="start" font-family="Liberation Sans, sans-serif" textLength="74" lengthAdjust="spacing" >35.220</text>
<text x="174.5" y="163.5" fill="#ececec" font-size="24" font-weight="normal" text-anchor="end" font-family="Liberation Sans, sans-serif" textLength="75.5" lengthAdjust="spacing" >34.007</text>
<text x="1919" y="163.5" fill="#ececec" font-size="24" font-weight="normal" text-anchor="start" font-family="Liberation Sans, sans-serif" textLength="74" lengthAdjust="spacing" >34.007</text>
<text x="174.5" y="279.5" fill="#ececec" font-size="24" font-weight="normal" text-anchor="end" font-family="Liberation Sans, sans-serif" textLength="75.5" lengthAdjust="spacing" >32.793</text>
<text x="1919" y="279.5" fill="#ececec" font-size="24" font-weight="normal" text-anchor="start" font-family="Liberation Sans, sans-serif" textLength="74" lengthAdjust="spacing" >32.793</text>
<text x="174.5" y="395.5" fill="#ececec" font-size="24" font-weight="normal" text-anchor="end" font-family="Liberation Sans, sans-serif" textLength="75.5" lengthAdjust="spacing" >31.580</text>
<text x="1919" y="395.5" fill="#ececec" font-size="24" font-weight="normal" text-anchor="start" font-family="Liberation Sans, sans-serif" textLength="74" lengthAdjust="spacing" >31.580</text>
<text x="174.5" y="509.5" fill="#ececec" font-size="24" font-weight="normal" text-anchor="end" font-family="Liberation Sans, sans-serif" textLength="75.5" lengthAdjust="spacing" >30.367</text>
<text x="1919" y="509.5" fill="#ececec" font-size="24" font-weight="normal" text-anchor="start" font-family="Liberation Sans, sans-serif" textLength="74" lengthAdjust="spacing" >30.367</text>
<text x="174.5" y="625.5" fill="#ececec" font-size="24" font-weight="normal" text-anchor="end" font-family="Liberation Sans, sans-serif" textLength="75.5" lengthAdjust="spacing" >29.154</text>
<text x="1919" y="625.5" fill="#ececec" font-size="24" font-weight="normal" text-anchor="start" font-family="Liberation Sans, sans-serif" textLength="74" lengthAdjust="spacing" >29.154</text>
<text x="174.5" y="783.5" fill="#ececec" font-size="24" font-weight="normal" text-anchor="end" font-family="Liberation Sans, sans-serif" textLength="61.5" lengthAdjust="spacing" >0.922</text>
<text x="1919" y="783.5" fill="#ececec" font-size="24" font-weight="normal" text-anchor="start" font-family="Liberation Sans, sans-serif" textLength="61.5" lengthAdjust="spacing" >0.922</text>
<text x="174.5" y="829.5" fill="#ececec" font-size="24" font-weight="normal" text-anchor="end" font-family="Liberation Sans, sans-serif" textLength="61.5" lengthAdjust="spacing" >0.574</text>
<text x="1919" y="829.5" fill="#ececec" font-size="24" font-weight="normal" text-anchor="start" font-family="Liberation Sans, sans-serif" textLength="61.5" lengthAdjust="spacing" >0.574</text>
<text x="174.5" y="875.5" fill="#ececec" font-size="24" font-weight="normal" text-anchor="end" font-family="Liberation Sans, sans-serif" textLength="61.5" lengthAdjust="spacing" >0.226</text>
<text x="1919" y="875.5" fill="#ececec" font-size="24" font-weight="normal" text-anchor="start" font-family="Liberation Sans, sans-serif" textLength="61.5" lengthAdjust="spacing" >0.226</text>
<text x="174.5" y="921.5" fill="#ececec" font-size="24" font-weight="normal" text-anchor="end" font-family="Liberation Sans, sans-serif" textLength="70" lengthAdjust="spacing" >-0.123</text>
<text x="1920" y="921.5" fill="#ececec" font-size="24" font-weight="normal" text-anchor="start" font-family="Liberation Sans, sans-serif" textLength="69" lengthAdjust="spacing" >-0.123</text>
<text x="174.5" y="967.5" fill="#ececec" font-size="24" font-weight="normal" text-anchor="end" font-family="Liberation Sans, sans-serif" textLength="70" lengthAdjust="spacing" >-0.471</text>
<text x="1920" y="967.5" fill="#ececec" font-size="24" font-weight="normal" text-anchor="start" font-family="Liberation Sans, sans-serif" textLength="69" lengthAdjust="spacing" >-0.471</text>
<text x="174.5" y="1059.5" fill="#ececec" font-size="24" font-weight="normal" text-anchor="end" font-family="Liberation Sans, sans-serif" textLength="75.5" lengthAdjust="spacing" >67.237</text>
<text x="1919" y="1059.5" fill="#ececec" font-size="24" font-weight="normal" text-anchor="start" font-family="Liberation Sans, sans-serif" textLength="74" lengthAdjust="spacing" >67.237</text>
<text x="174.5" y="1105.5" fill="#ececec" font-size="24" font-weight="normal" text-anchor="end" font-family="Liberation Sans, sans-serif" textLength="75.5" lengthAdjust="spacing" >58.602</text>
<text x="1919" y="1105.5" fill="#ececec" font-size="24" font-weight="normal" text-anchor="start" font-family="Liberation Sans, sans-serif" textLength="74" lengthAdjust="spacing" >58.602</text>
<text x="174.5" y="1153.5" fill="#ececec" font-size="24" font-weight="normal" text-anchor="end" font-family="Liberation Sans, sans-serif" textLength="75.5" lengthAdjust="spacing" >49.966</text>
<text x="1919" y="1153.5" fill="#ececec" font-size="24" font-weight="normal" text-anchor="start" font-family="Liberation Sans, sans-serif" textLength="74" lengthAdjust="spacing" >49.966</text>
<text x="174.5" y="1201.5" fill="#ececec" font-size="24" font-weight="normal" text-anchor="end" font-family="Liberation Sans, sans-serif" textLength="75.5" lengthAdjust="spacing" >41.331</text>
<text x="1919" y="1201.5" fill="#ececec" font-size="24" font-weight="normal" text-anchor="start" font-family="Liberation Sans, sans-serif" textLength="74" lengthAdjust="spacing" >41.331</text>
<rect x="1913" y="253" width="136" height="34" fill="#000000" stroke="#f5a030" stroke-width="2"/>
<line x1="1910" y1="253" x2="1914" y2="253" stroke="#f5a030" stroke-width="2" />
<text x="1919" y="278" fill="#f5a030" font-size="24" font-weight="normal" text-anchor="start" font-family="Liberation Sans, sans-serif" textLength="74" lengthAdjust="spacing" >33.013</text>
<rect x="2032" y="236" width="16" height="16" fill="#050505" />
<path d="M2040 236 L2047.5 244 L2032.5 244 Z M2040 244 L2047.5 252 L2032.5 252 Z" fill="#f5a030"/>
<text x="184" y="27.42" fill="#e6e6e6" font-size="24" text-anchor="start" font-family="Liberation Sans, Noto Sans CJK SC, sans-serif" textLength="96" lengthAdjust="spacing">现货白银</text>
<text x="280" y="27.42" fill="#ff6a00" font-size="24" text-anchor="start" font-family="Liberation Sans, Noto Sans CJK SC, sans-serif" textLength="96" lengthAdjust="spacing">【日线】</text>
<circle cx="386" cy="23" r="8.2" fill="none" stroke="#ff7a00" stroke-width="1.6"/>
<line x1="378" y1="23" x2="394" y2="23" stroke="#ff7a00" stroke-width="2" />
<line x1="386" y1="15" x2="386" y2="31" stroke="#c0401a" stroke-width="1.6" />
<rect x="412" y="28" width="22" height="2" fill="#a0a0a0" />
<rect x="434" y="4" width="2" height="26" fill="#a0a0a0" />
<rect x="411" y="3" width="22" height="24" fill="#ffffff" stroke="#00008b" stroke-width="2"/>
<polyline points="412,16 414,14 416,12 418,9 420,11 422,13 424,15 426,13 428,11 432,11" fill="none" stroke="#ff0000" stroke-width="1.6" stroke-linejoin="round" />
<polyline points="412,22 414,20 416,18 418,15 420,17 422,19 424,21 426,19 428,17 432,17" fill="none" stroke="#0000ff" stroke-width="1.6" stroke-linejoin="round" />
<text x="441.5" y="27" fill="#e0e0e0" font-size="24" font-weight="normal" text-anchor="start" font-family="Liberation Sans, sans-serif" textLength="263" lengthAdjust="spacing" >MA(50,14,9,20,100,200)</text>
<text x="718" y="27" fill="#e0e0e0" font-size="24" font-weight="normal" text-anchor="start" font-family="Liberation Sans, sans-serif" textLength="145" lengthAdjust="spacing" >MA50:30.761</text>
<text x="884" y="27" fill="#d6d618" font-size="24" font-weight="normal" text-anchor="start" font-family="Liberation Sans, sans-serif" textLength="147" lengthAdjust="spacing" >MA14:32.239</text>
<text x="1050" y="27" fill="#e828e8" font-size="24" font-weight="normal" text-anchor="start" font-family="Liberation Sans, sans-serif" textLength="133" lengthAdjust="spacing" >MA9:32.376</text>
<text x="1202" y="27" fill="#22cc22" font-size="24" font-weight="normal" text-anchor="start" font-family="Liberation Sans, sans-serif" textLength="147" lengthAdjust="spacing" >MA20:31.813</text>
<text x="1368" y="27" fill="#808080" font-size="24" font-weight="normal" text-anchor="start" font-family="Liberation Sans, sans-serif" textLength="160" lengthAdjust="spacing" >MA100:31.229</text>
<text x="1548" y="27" fill="#ee3030" font-size="24" font-weight="normal" text-anchor="start" font-family="Liberation Sans, sans-serif" textLength="86" lengthAdjust="spacing" >MA200:</text>
<rect x="1784" y="0" width="128" height="32" fill="#050505" />
<rect x="1787" y="3" width="26" height="26" fill="none" stroke="#b4b4b4" stroke-width="2"/>
<rect x="1819" y="3" width="26" height="26" fill="none" stroke="#d2d2d2" stroke-width="2"/>
<rect x="1851" y="3" width="26" height="26" fill="none" stroke="#1a8ae0" stroke-width="2"/>
<rect x="1883" y="3" width="26" height="26" fill="none" stroke="#d2d2d2" stroke-width="2"/>
<rect x="1798" y="6" width="4" height="6" fill="#b4b4b4" />
<rect x="1798" y="14" width="4" height="4" fill="#b4b4b4" />
<rect x="1798" y="20" width="4" height="6" fill="#b4b4b4" />
<rect x="1790" y="14" width="6" height="4" fill="#b4b4b4" />
<rect x="1804" y="14" width="6" height="4" fill="#b4b4b4" />
<rect x="1824" y="6" width="2" height="20" fill="#d2d2d2" />
<rect x="1822" y="22" width="20" height="2" fill="#d2d2d2" />
<rect x="1822" y="8" width="6" height="2" fill="#d2d2d2" />
<rect x="1838" y="20" width="2" height="6" fill="#d2d2d2" />
<rect x="1830" y="8" width="2" height="12" fill="#d2d2d2" />
<path d="M1832 14 L1838 9 L1838 19 Z" fill="#d2d2d2"/>
<rect x="1856" y="6" width="2" height="20" fill="#1a8ae0" />
<rect x="1854" y="22" width="20" height="2" fill="#1a8ae0" />
<rect x="1854" y="8" width="6" height="2" fill="#1a8ae0" />
<rect x="1870" y="20" width="2" height="6" fill="#1a8ae0" />
<path d="M1862 8 L1872 15 L1862 22 Z" fill="#1a8ae0"/>
<rect x="1887" y="7" width="6" height="18" fill="none" stroke="#d2d2d2" stroke-width="2"/>
<rect x="1890" y="14" width="12" height="2" fill="#d2d2d2" />
<path d="M1904 15 L1898 10 L1898 20 Z" fill="#d2d2d2"/>
<text x="185" y="761" fill="#e0e0e0" font-size="24" font-weight="normal" text-anchor="start" font-family="Liberation Sans, sans-serif" textLength="296" lengthAdjust="spacing" >MACD(26,12,9) DIFF:0.572</text>
<text x="500" y="761" fill="#d6d618" font-size="24" font-weight="normal" text-anchor="start" font-family="Liberation Sans, sans-serif" textLength="113" lengthAdjust="spacing" >DEA:0.497</text>
<text x="632" y="761" fill="#e828e8" font-size="24" font-weight="normal" text-anchor="start" font-family="Liberation Sans, sans-serif" textLength="139" lengthAdjust="spacing" >MACD:0.151</text>
<g shape-rendering="crispEdges">
<rect x="192" y="846" width="2" height="56" fill="#ec5060" />
<rect x="212" y="858" width="2" height="44" fill="#ec5060" />
<rect x="232" y="868" width="2" height="34" fill="#ec5060" />
<rect x="252" y="864" width="2" height="38" fill="#ec5060" />
<rect x="272" y="878" width="2" height="24" fill="#ec5060" />
<rect x="292" y="900" width="2" height="10" fill="#56b98c" />
<rect x="312" y="900" width="2" height="36" fill="#56b98c" />
<rect x="332" y="900" width="2" height="50" fill="#56b98c" />
<rect x="352" y="900" width="2" height="56" fill="#56b98c" />
<rect x="372" y="900" width="2" height="82" fill="#56b98c" />
<rect x="392" y="900" width="2" height="82" fill="#56b98c" />
<rect x="412" y="900" width="2" height="92" fill="#56b98c" />
<rect x="432" y="900" width="2" height="104" fill="#56b98c" />
<rect x="452" y="900" width="2" height="108" fill="#56b98c" />
<rect x="472" y="900" width="2" height="108" fill="#56b98c" />
<rect x="492" y="900" width="2" height="106" fill="#56b98c" />
<rect x="512" y="900" width="2" height="100" fill="#56b98c" />
<rect x="532" y="900" width="2" height="76" fill="#56b98c" />
<rect x="552" y="900" width="2" height="56" fill="#56b98c" />
<rect x="572" y="900" width="2" height="46" fill="#56b98c" />
<rect x="592" y="900" width="2" height="38" fill="#56b98c" />
<rect x="612" y="900" width="2" height="22" fill="#56b98c" />
<rect x="632" y="900" width="2" height="28" fill="#56b98c" />
<rect x="652" y="900" width="2" height="26" fill="#56b98c" />
<rect x="672" y="900" width="2" height="30" fill="#56b98c" />
<rect x="692" y="900" width="2" height="26" fill="#56b98c" />
<rect x="712" y="900" width="2" height="16" fill="#56b98c" />
<rect x="732" y="900" width="2" height="10" fill="#56b98c" />
<rect x="752" y="894" width="2" height="8" fill="#ec5060" />
<rect x="772" y="880" width="2" height="22" fill="#ec5060" />
<rect x="792" y="870" width="2" height="32" fill="#ec5060" />
<rect x="812" y="872" width="2" height="30" fill="#ec5060" />
<rect x="832" y="858" width="2" height="44" fill="#ec5060" />
<rect x="852" y="850" width="2" height="52" fill="#ec5060" />
<rect x="872" y="848" width="2" height="54" fill="#ec5060" />
<rect x="892" y="864" width="2" height="38" fill="#ec5060" />
<rect x="912" y="884" width="2" height="18" fill="#ec5060" />
<rect x="932" y="896" width="2" height="6" fill="#ec5060" />
<rect x="952" y="900" width="2" height="6" fill="#56b98c" />
<rect x="972" y="900" width="2" height="30" fill="#56b98c" />
<rect x="992" y="900" width="2" height="50" fill="#56b98c" />
<rect x="1012" y="900" width="2" height="50" fill="#56b98c" />
<rect x="1032" y="900" width="2" height="44" fill="#56b98c" />
<rect x="1052" y="900" width="2" height="40" fill="#56b98c" />
<rect x="1072" y="900" width="2" height="30" fill="#56b98c" />
<rect x="1092" y="900" width="2" height="30" fill="#56b98c" />
<rect x="1112" y="900" width="2" height="34" fill="#56b98c" />
<rect x="1132" y="900" width="2" height="34" fill="#56b98c" />
<rect x="1152" y="900" width="2" height="22" fill="#56b98c" />
<rect x="1172" y="900" width="2" height="10" fill="#56b98c" />
<rect x="1192" y="894" width="2" height="8" fill="#ec5060" />
<rect x="1212" y="882" width="2" height="20" fill="#ec5060" />
<rect x="1232" y="874" width="2" height="28" fill="#ec5060" />
<rect x="1252" y="868" width="2" height="34" fill="#ec5060" />
<rect x="1272" y="862" width="2" height="40" fill="#ec5060" />
<rect x="1292" y="872" width="2" height="30" fill="#ec5060" />
<rect x="1312" y="874" width="2" height="28" fill="#ec5060" />
<rect x="1332" y="864" width="2" height="38" fill="#ec5060" />
<rect x="1352" y="856" width="2" height="46" fill="#ec5060" />
<rect x="1372" y="860" width="2" height="42" fill="#ec5060" />
<rect x="1392" y="862" width="2" height="40" fill="#ec5060" />
<rect x="1412" y="860" width="2" height="42" fill="#ec5060" />
<rect x="1432" y="860" width="2" height="42" fill="#ec5060" />
<rect x="1452" y="868" width="2" height="34" fill="#ec5060" />
<rect x="1472" y="872" width="2" height="30" fill="#ec5060" />
<rect x="1492" y="882" width="2" height="20" fill="#ec5060" />
<rect x="1512" y="888" width="2" height="14" fill="#ec5060" />
<rect x="1532" y="884" width="2" height="18" fill="#ec5060" />
<rect x="1552" y="868" width="2" height="34" fill="#ec5060" />
<rect x="1572" y="866" width="2" height="36" fill="#ec5060" />
<rect x="1592" y="862" width="2" height="40" fill="#ec5060" />
<rect x="1612" y="852" width="2" height="50" fill="#ec5060" />
<rect x="1632" y="846" width="2" height="56" fill="#ec5060" />
<rect x="1652" y="848" width="2" height="54" fill="#ec5060" />
<rect x="1672" y="858" width="2" height="44" fill="#ec5060" />
<rect x="1692" y="864" width="2" height="38" fill="#ec5060" />
<rect x="1712" y="874" width="2" height="28" fill="#ec5060" />
<rect x="1732" y="876" width="2" height="26" fill="#ec5060" />
<rect x="1752" y="878" width="2" height="24" fill="#ec5060" />
<rect x="1772" y="884" width="2" height="18" fill="#ec5060" />
<rect x="1792" y="886" width="2" height="16" fill="#ec5060" />
<rect x="1812" y="880" width="2" height="22" fill="#ec5060" />
<rect x="1832" y="882" width="2" height="20" fill="#ec5060" />
<rect x="1852" y="880" width="2" height="22" fill="#ec5060" />
</g>
<polyline points="193,782.5 213,782.5 233,785 253,779 273,781 293,799 313,815 333,828 353,837 373,860 393,870 413,887 433,907 453,921 473,937 493,946 513,956 533,953 553,950.5 573,950.5 593,950.5 613,944.5 633,951 653,956 673,959 693,961.5 713,957 733,954.5 753,947 773,939 793,930.5 813,927 833,914 853,905 873,897 893,900 913,908 933,914 953,919 973,933 993,948 1013,957 1033,959 1053,961 1073,959 1093,963 1113,969 1133,973 1153,969 1173,965 1193,957 1213,949 1233,941 1253,935 1273,927 1293,929 1313,927 1333,915 1353,907 1373,903 1393,901 1413,893 1433,889 1453,889 1473,887 1493,891 1513,891 1533,887 1553,876 1573,870 1593,862.5 1613,852 1633,842.5 1653,836.5 1673,838.5 1693,836.5 1713,838.5 1733,836.5 1753,835 1773,835 1793,835 1813,829 1833,829 1853,824" fill="none" stroke="#f2f2f2" stroke-width="1.7" stroke-linejoin="round" />
<polyline points="193,809 213,805 233,800 253,795 273,793 293,793 313,799 333,805 353,810 373,820 393,830 413,842 433,854 453,866 473,878 493,892 513,905 533,914 553,923 573,929 593,933 613,935 633,939 653,941 673,945 693,949 713,951 733,951 753,950.5 773,949 793,945 813,941 833,935 853,929 873,923 893,919 913,917 933,917 953,917 973,921 993,927 1013,933 1033,938 1053,942 1073,945 1093,948 1113,953 1133,957 1153,959 1173,961 1193,959 1213,957 1233,955 1253,951 1273,945 1293,943 1313,939 1333,935 1353,929 1373,924 1393,919 1413,913 1433,909 1453,905 1473,901 1493,899 1513,897 1533,895 1553,891 1573,887 1593,883 1613,877 1633,871 1653,863 1673,858 1693,854 1713,850.5 1733,848 1753,845 1773,842.5 1793,840.5 1813,838.5 1833,836.5 1853,835" fill="none" stroke="#f0e61e" stroke-width="1.7" stroke-linejoin="round" />
<text x="185" y="1037" fill="#e0e0e0" font-size="24" font-weight="normal" text-anchor="start" font-family="Liberation Sans, sans-serif" textLength="290" lengthAdjust="spacing" >RSI(14,14,14) RSI1:66.928</text>
<text x="494" y="1037" fill="#d6d618" font-size="24" font-weight="normal" text-anchor="start" font-family="Liberation Sans, sans-serif" textLength="131" lengthAdjust="spacing" >RSI2:66.928</text>
<text x="644" y="1037" fill="#e828e8" font-size="24" font-weight="normal" text-anchor="start" font-family="Liberation Sans, sans-serif" textLength="131" lengthAdjust="spacing" >RSI3:66.928</text>
<polyline points="193,1077 213,1077 233,1077 253,1054 273,1091 293,1138 313,1149 333,1147 353,1138.5 373,1195 393,1161 413,1186 433,1203 453,1201 473,1213 493,1207 513,1215 533,1169 553,1166.5 573,1181 593,1183 613,1157 633,1197 653,1191 673,1203 693,1197 713,1175 733,1179 753,1153 773,1139 793,1137 813,1157 833,1115 853,1111 873,1111 893,1163 913,1183 933,1183 953,1183 973,1233 993,1241 1013,1213 1033,1205 1053,1205 1073,1193 1093,1213 1113,1231 1133,1233 1153,1187 1173,1181 1193,1160 1213,1155 1233,1151 1253,1149 1273,1129 1293,1181 1313,1163 1333,1117 1353,1109 1373,1141 1393,1130 1413,1111 1433,1113 1453,1139 1473,1129 1493,1157 1513,1143 1533,1117 1553,1077 1573,1099 1593,1087 1613,1063 1633,1057.5 1653,1065 1673,1095 1693,1083 1713,1101 1733,1080 1753,1075 1773,1091 1793,1080 1813,1054 1833,1071 1853,1057" fill="none" stroke="#e628e6" stroke-width="1.7" stroke-linejoin="round" />
<g stroke="#ff0000" stroke-width="1.5">
<line x1="67.0" y1="1024.0" x2="71.0" y2="1024.0"/>
<line x1="64.4" y1="1030.4" x2="67.2" y2="1033.2"/>
<line x1="58.0" y1="1033.0" x2="58.0" y2="1037.0"/>
<line x1="51.6" y1="1030.4" x2="48.8" y2="1033.2"/>
<line x1="49.0" y1="1024.0" x2="45.0" y2="1024.0"/>
<line x1="51.6" y1="1017.6" x2="48.8" y2="1014.8"/>
<line x1="58.0" y1="1015.0" x2="58.0" y2="1011.0"/>
<line x1="64.4" y1="1017.6" x2="67.2" y2="1014.8"/>
</g>
<circle cx="58" cy="1024" r="6" fill="#ffffff"/><circle cx="58" cy="1024" r="3.6" fill="#ff0000"/>
<text x="316" y="1268" fill="#ffffff" font-size="24" font-weight="bold" text-anchor="start" font-family="Liberation Sans, sans-serif" textLength="89" lengthAdjust="spacing" >2024/11</text>
<text x="737" y="1268" fill="#ffffff" font-size="24" font-weight="bold" text-anchor="start" font-family="Liberation Sans, sans-serif" textLength="89" lengthAdjust="spacing" >2024/12</text>
<text x="1156" y="1268" fill="#ffffff" font-size="24" font-weight="bold" text-anchor="start" font-family="Liberation Sans, sans-serif" textLength="89" lengthAdjust="spacing" >2025/01</text>
<text x="1597" y="1268" fill="#ffffff" font-size="24" font-weight="bold" text-anchor="start" font-family="Liberation Sans, sans-serif" textLength="89" lengthAdjust="spacing" >2025/02</text>
<text x="66.5" y="1273.38" fill="#ff6a00" font-size="26" font-weight="bold" text-anchor="start" font-family="Liberation Sans, Noto Sans CJK SC, sans-serif" textLength="52" lengthAdjust="spacing">日线</text>
<path d="M138 1256 L146.5 1271 L129.5 1271 Z" fill="#ff6a00"/>
<text x="1924" y="1288" fill="#e2e6f0" font-size="28" font-weight="normal" text-anchor="start" font-family="Liberation Sans, sans-serif" textLength="97" lengthAdjust="spacing" >FX678</text>
<rect x="40" y="1282" width="1724" height="32" fill="#1e1e1e" />
<rect x="41" y="1284" width="77" height="30" fill="#060606" />
<text x="55.5" y="1307.12" fill="#ffffff" font-size="24" text-anchor="start" font-family="Liberation Serif, Noto Serif CJK SC, serif" textLength="48" lengthAdjust="spacing">指标</text>
<rect x="120" y="1284" width="78" height="30" fill="#060606" />
<text x="135" y="1307.12" fill="#ffffff" font-size="24" text-anchor="start" font-family="Liberation Serif, Noto Serif CJK SC, serif" textLength="48" lengthAdjust="spacing">模板</text>
<rect x="200" y="1282" width="114" height="30" fill="#ff6a00" />
<text text-anchor="middle" transform="translate(221,1306) scale(0.74,1)" fill="#ffffff" font-size="24" font-family="Liberation Serif, serif">V</text>
<text text-anchor="middle" transform="translate(233,1306) scale(0.74,1)" fill="#ffffff" font-size="24" font-family="Liberation Serif, serif">I</text>
<text text-anchor="middle" transform="translate(245,1306) scale(0.74,1)" fill="#ffffff" font-size="24" font-family="Liberation Serif, serif">P</text>
<text x="251" y="1307.12" fill="#ffffff" font-size="24" text-anchor="start" font-family="Liberation Serif, Noto Serif CJK SC, serif" textLength="48" lengthAdjust="spacing">指标</text>
<rect x="316" y="1284" width="150" height="30" fill="#060606" />
<text text-anchor="middle" transform="translate(337,1306) scale(0.74,1)" fill="#b4b4b4" font-size="24" font-family="Liberation Serif, serif">B</text>
<text text-anchor="middle" transform="translate(349,1306) scale(0.74,1)" fill="#b4b4b4" font-size="24" font-family="Liberation Serif, serif">A</text>
<text text-anchor="middle" transform="translate(361,1306) scale(0.74,1)" fill="#b4b4b4" font-size="24" font-family="Liberation Serif, serif">R</text>
<text text-anchor="middle" transform="translate(373,1306) scale(0.74,1)" fill="#b4b4b4" font-size="24" font-family="Liberation Serif, serif">U</text>
<text text-anchor="middle" transform="translate(385,1306) scale(0.74,1)" fill="#b4b4b4" font-size="24" font-family="Liberation Serif, serif">P</text>
<text text-anchor="middle" transform="translate(397,1306) scale(0.74,1)" fill="#b4b4b4" font-size="24" font-family="Liberation Serif, serif">D</text>
<text text-anchor="middle" transform="translate(409,1306) scale(0.74,1)" fill="#b4b4b4" font-size="24" font-family="Liberation Serif, serif">N</text>
<text text-anchor="middle" transform="translate(421,1306) scale(0.74,1)" fill="#b4b4b4" font-size="24" font-family="Liberation Serif, serif">_</text>
<text text-anchor="middle" transform="translate(433,1306) scale(0.74,1)" fill="#b4b4b4" font-size="24" font-family="Liberation Serif, serif">U</text>
<text text-anchor="middle" transform="translate(445,1306) scale(0.74,1)" fill="#b4b4b4" font-size="24" font-family="Liberation Serif, serif">D</text>
<rect x="468" y="1284" width="114" height="30" fill="#060606" />
<text text-anchor="middle" transform="translate(489,1306) scale(0.74,1)" fill="#b4b4b4" font-size="24" font-family="Liberation Serif, serif">B</text>
<text text-anchor="middle" transform="translate(501,1306) scale(0.74,1)" fill="#b4b4b4" font-size="24" font-family="Liberation Serif, serif">I</text>
<text text-anchor="middle" transform="translate(513,1306) scale(0.74,1)" fill="#b4b4b4" font-size="24" font-family="Liberation Serif, serif">A</text>
<text text-anchor="middle" transform="translate(525,1306) scale(0.74,1)" fill="#b4b4b4" font-size="24" font-family="Liberation Serif, serif">S</text>
<text text-anchor="middle" transform="translate(537,1306) scale(0.74,1)" fill="#b4b4b4" font-size="24" font-family="Liberation Serif, serif">_</text>
<text text-anchor="middle" transform="translate(549,1306) scale(0.74,1)" fill="#b4b4b4" font-size="24" font-family="Liberation Serif, serif">U</text>
<text text-anchor="middle" transform="translate(561,1306) scale(0.74,1)" fill="#b4b4b4" font-size="24" font-family="Liberation Serif, serif">D</text>
<rect x="584" y="1284" width="114" height="30" fill="#060606" />
<text text-anchor="middle" transform="translate(605,1306) scale(0.74,1)" fill="#b4b4b4" font-size="24" font-family="Liberation Serif, serif">B</text>
<text text-anchor="middle" transform="translate(617,1306) scale(0.74,1)" fill="#b4b4b4" font-size="24" font-family="Liberation Serif, serif">O</text>
<text text-anchor="middle" transform="translate(629,1306) scale(0.74,1)" fill="#b4b4b4" font-size="24" font-family="Liberation Serif, serif">L</text>
<text text-anchor="middle" transform="translate(641,1306) scale(0.74,1)" fill="#b4b4b4" font-size="24" font-family="Liberation Serif, serif">L</text>
<text text-anchor="middle" transform="translate(653,1306) scale(0.74,1)" fill="#b4b4b4" font-size="24" font-family="Liberation Serif, serif">_</text>
<text text-anchor="middle" transform="translate(665,1306) scale(0.74,1)" fill="#b4b4b4" font-size="24" font-family="Liberation Serif, serif">U</text>
<text text-anchor="middle" transform="translate(677,1306) scale(0.74,1)" fill="#b4b4b4" font-size="24" font-family="Liberation Serif, serif">D</text>
<rect x="700" y="1284" width="102" height="30" fill="#060606" />
<text text-anchor="middle" transform="translate(721,1306) scale(0.74,1)" fill="#b4b4b4" font-size="24" font-family="Liberation Serif, serif">C</text>
<text text-anchor="middle" transform="translate(733,1306) scale(0.74,1)" fill="#b4b4b4" font-size="24" font-family="Liberation Serif, serif">C</text>
<text text-anchor="middle" transform="translate(745,1306) scale(0.74,1)" fill="#b4b4b4" font-size="24" font-family="Liberation Serif, serif">I</text>
<text text-anchor="middle" transform="translate(757,1306) scale(0.74,1)" fill="#b4b4b4" font-size="24" font-family="Liberation Serif, serif">_</text>
<text text-anchor="middle" transform="translate(769,1306) scale(0.74,1)" fill="#b4b4b4" font-size="24" font-family="Liberation Serif, serif">U</text>
<text text-anchor="middle" transform="translate(781,1306) scale(0.74,1)" fill="#b4b4b4" font-size="24" font-family="Liberation Serif, serif">D</text>
<rect x="804" y="1284" width="102" height="30" fill="#060606" />
<text text-anchor="middle" transform="translate(825,1306) scale(0.74,1)" fill="#b4b4b4" font-size="24" font-family="Liberation Serif, serif">D</text>
<text text-anchor="middle" transform="translate(837,1306) scale(0.74,1)" fill="#b4b4b4" font-size="24" font-family="Liberation Serif, serif">M</text>
<text text-anchor="middle" transform="translate(849,1306) scale(0.74,1)" fill="#b4b4b4" font-size="24" font-family="Liberation Serif, serif">I</text>
<text text-anchor="middle" transform="translate(861,1306) scale(0.74,1)" fill="#b4b4b4" font-size="24" font-family="Liberation Serif, serif">_</text>
<text text-anchor="middle" transform="translate(873,1306) scale(0.74,1)" fill="#b4b4b4" font-size="24" font-family="Liberation Serif, serif">U</text>
<text text-anchor="middle" transform="translate(885,1306) scale(0.74,1)" fill="#b4b4b4" font-size="24" font-family="Liberation Serif, serif">D</text>
<rect x="908" y="1284" width="137" height="30" fill="#060606" />
<text text-anchor="middle" transform="translate(928.5,1306) scale(0.74,1)" fill="#b4b4b4" font-size="24" font-family="Liberation Serif, serif">I</text>
<text text-anchor="middle" transform="translate(940.5,1306) scale(0.74,1)" fill="#b4b4b4" font-size="24" font-family="Liberation Serif, serif">N</text>
<text text-anchor="middle" transform="translate(952.5,1306) scale(0.74,1)" fill="#b4b4b4" font-size="24" font-family="Liberation Serif, serif">S</text>
<text text-anchor="middle" transform="translate(964.5,1306) scale(0.74,1)" fill="#b4b4b4" font-size="24" font-family="Liberation Serif, serif">I</text>
<text text-anchor="middle" transform="translate(976.5,1306) scale(0.74,1)" fill="#b4b4b4" font-size="24" font-family="Liberation Serif, serif">D</text>
<text text-anchor="middle" transform="translate(988.5,1306) scale(0.74,1)" fill="#b4b4b4" font-size="24" font-family="Liberation Serif, serif">E</text>
<text text-anchor="middle" transform="translate(1000.5,1306) scale(0.74,1)" fill="#b4b4b4" font-size="24" font-family="Liberation Serif, serif">_</text>
<text text-anchor="middle" transform="translate(1012.5,1306) scale(0.74,1)" fill="#b4b4b4" font-size="24" font-family="Liberation Serif, serif">U</text>
<text text-anchor="middle" transform="translate(1024.5,1306) scale(0.74,1)" fill="#b4b4b4" font-size="24" font-family="Liberation Serif, serif">D</text>
<rect x="1047" y="1284" width="91" height="30" fill="#060606" />
<text text-anchor="middle" transform="translate(1068.5,1306) scale(0.74,1)" fill="#b4b4b4" font-size="24" font-family="Liberation Serif, serif">K</text>
<text text-anchor="middle" transform="translate(1080.5,1306) scale(0.74,1)" fill="#b4b4b4" font-size="24" font-family="Liberation Serif, serif">D</text>
<text text-anchor="middle" transform="translate(1092.5,1306) scale(0.74,1)" fill="#b4b4b4" font-size="24" font-family="Liberation Serif, serif">_</text>
<text text-anchor="middle" transform="translate(1104.5,1306) scale(0.74,1)" fill="#b4b4b4" font-size="24" font-family="Liberation Serif, serif">U</text>
<text text-anchor="middle" transform="translate(1116.5,1306) scale(0.74,1)" fill="#b4b4b4" font-size="24" font-family="Liberation Serif, serif">D</text>
<rect x="1140" y="1284" width="102" height="30" fill="#060606" />
<text text-anchor="middle" transform="translate(1161,1306) scale(0.74,1)" fill="#b4b4b4" font-size="24" font-family="Liberation Serif, serif">K</text>
<text text-anchor="middle" transform="translate(1173,1306) scale(0.74,1)" fill="#b4b4b4" font-size="24" font-family="Liberation Serif, serif">D</text>
<text text-anchor="middle" transform="translate(1185,1306) scale(0.74,1)" fill="#b4b4b4" font-size="24" font-family="Liberation Serif, serif">J</text>
<text text-anchor="middle" transform="translate(1197,1306) scale(0.74,1)" fill="#b4b4b4" font-size="24" font-family="Liberation Serif, serif">_</text>
<text text-anchor="middle" transform="translate(1209,1306) scale(0.74,1)" fill="#b4b4b4" font-size="24" font-family="Liberation Serif, serif">U</text>
<text text-anchor="middle" transform="translate(1221,1306) scale(0.74,1)" fill="#b4b4b4" font-size="24" font-family="Liberation Serif, serif">D</text>
<rect x="1244" y="1284" width="90" height="30" fill="#060606" />
<text text-anchor="middle" transform="translate(1265,1306) scale(0.74,1)" fill="#b4b4b4" font-size="24" font-family="Liberation Serif, serif">M</text>
<text text-anchor="middle" transform="translate(1277,1306) scale(0.74,1)" fill="#b4b4b4" font-size="24" font-family="Liberation Serif, serif">A</text>
<text text-anchor="middle" transform="translate(1289,1306) scale(0.74,1)" fill="#b4b4b4" font-size="24" font-family="Liberation Serif, serif">_</text>
<text text-anchor="middle" transform="translate(1301,1306) scale(0.74,1)" fill="#b4b4b4" font-size="24" font-family="Liberation Serif, serif">U</text>
<text text-anchor="middle" transform="translate(1313,1306) scale(0.74,1)" fill="#b4b4b4" font-size="24" font-family="Liberation Serif, serif">D</text>
<rect x="1336" y="1284" width="114" height="30" fill="#060606" />
<text text-anchor="middle" transform="translate(1357,1306) scale(0.74,1)" fill="#b4b4b4" font-size="24" font-family="Liberation Serif, serif">M</text>
<text text-anchor="middle" transform="translate(1369,1306) scale(0.74,1)" fill="#b4b4b4" font-size="24" font-family="Liberation Serif, serif">A</text>
<text text-anchor="middle" transform="translate(1381,1306) scale(0.74,1)" fill="#b4b4b4" font-size="24" font-family="Liberation Serif, serif">C</text>
<text text-anchor="middle" transform="translate(1393,1306) scale(0.74,1)" fill="#b4b4b4" font-size="24" font-family="Liberation Serif, serif">D</text>
<text text-anchor="middle" transform="translate(1405,1306) scale(0.74,1)" fill="#b4b4b4" font-size="24" font-family="Liberation Serif, serif">_</text>
<text text-anchor="middle" transform="translate(1417,1306) scale(0.74,1)" fill="#b4b4b4" font-size="24" font-family="Liberation Serif, serif">U</text>
<text text-anchor="middle" transform="translate(1429,1306) scale(0.74,1)" fill="#b4b4b4" font-size="24" font-family="Liberation Serif, serif">D</text>
<rect x="1452" y="1284" width="102" height="30" fill="#060606" />
<text text-anchor="middle" transform="translate(1473,1306) scale(0.74,1)" fill="#b4b4b4" font-size="24" font-family="Liberation Serif, serif">M</text>
<text text-anchor="middle" transform="translate(1485,1306) scale(0.74,1)" fill="#b4b4b4" font-size="24" font-family="Liberation Serif, serif">T</text>
<text text-anchor="middle" transform="translate(1497,1306) scale(0.74,1)" fill="#b4b4b4" font-size="24" font-family="Liberation Serif, serif">M</text>
<text text-anchor="middle" transform="translate(1509,1306) scale(0.74,1)" fill="#b4b4b4" font-size="24" font-family="Liberation Serif, serif">_</text>
<text text-anchor="middle" transform="translate(1521,1306) scale(0.74,1)" fill="#b4b4b4" font-size="24" font-family="Liberation Serif, serif">U</text>
<text text-anchor="middle" transform="translate(1533,1306) scale(0.74,1)" fill="#b4b4b4" font-size="24" font-family="Liberation Serif, serif">D</text>
<rect x="1556" y="1284" width="150" height="30" fill="#060606" />
<text text-anchor="middle" transform="translate(1577,1306) scale(0.74,1)" fill="#b4b4b4" font-size="24" font-family="Liberation Serif, serif">O</text>
<text text-anchor="middle" transform="translate(1589,1306) scale(0.74,1)" fill="#b4b4b4" font-size="24" font-family="Liberation Serif, serif">U</text>
<text text-anchor="middle" transform="translate(1601,1306) scale(0.74,1)" fill="#b4b4b4" font-size="24" font-family="Liberation Serif, serif">T</text>
<text text-anchor="middle" transform="translate(1613,1306) scale(0.74,1)" fill="#b4b4b4" font-size="24" font-family="Liberation Serif, serif">S</text>
<text text-anchor="middle" transform="translate(1625,1306) scale(0.74,1)" fill="#b4b4b4" font-size="24" font-family="Liberation Serif, serif">I</text>
<text text-anchor="middle" transform="translate(1637,1306) scale(0.74,1)" fill="#b4b4b4" font-size="24" font-family="Liberation Serif, serif">D</text>
<text text-anchor="middle" transform="translate(1649,1306) scale(0.74,1)" fill="#b4b4b4" font-size="24" font-family="Liberation Serif, serif">E</text>
<text text-anchor="middle" transform="translate(1661,1306) scale(0.74,1)" fill="#b4b4b4" font-size="24" font-family="Liberation Serif, serif">_</text>
<text text-anchor="middle" transform="translate(1673,1306) scale(0.74,1)" fill="#b4b4b4" font-size="24" font-family="Liberation Serif, serif">U</text>
<text text-anchor="middle" transform="translate(1685,1306) scale(0.74,1)" fill="#b4b4b4" font-size="24" font-family="Liberation Serif, serif">D</text>
<rect x="1709" y="1284" width="53" height="30" fill="#060606" />
<text text-anchor="middle" transform="translate(1729.5,1306) scale(0.74,1)" fill="#b4b4b4" font-size="24" font-family="Liberation Serif, serif">&gt;</text>
<text text-anchor="middle" transform="translate(1741.5,1306) scale(0.74,1)" fill="#b4b4b4" font-size="24" font-family="Liberation Serif, serif">&gt;</text>
</svg>
</body></html>
